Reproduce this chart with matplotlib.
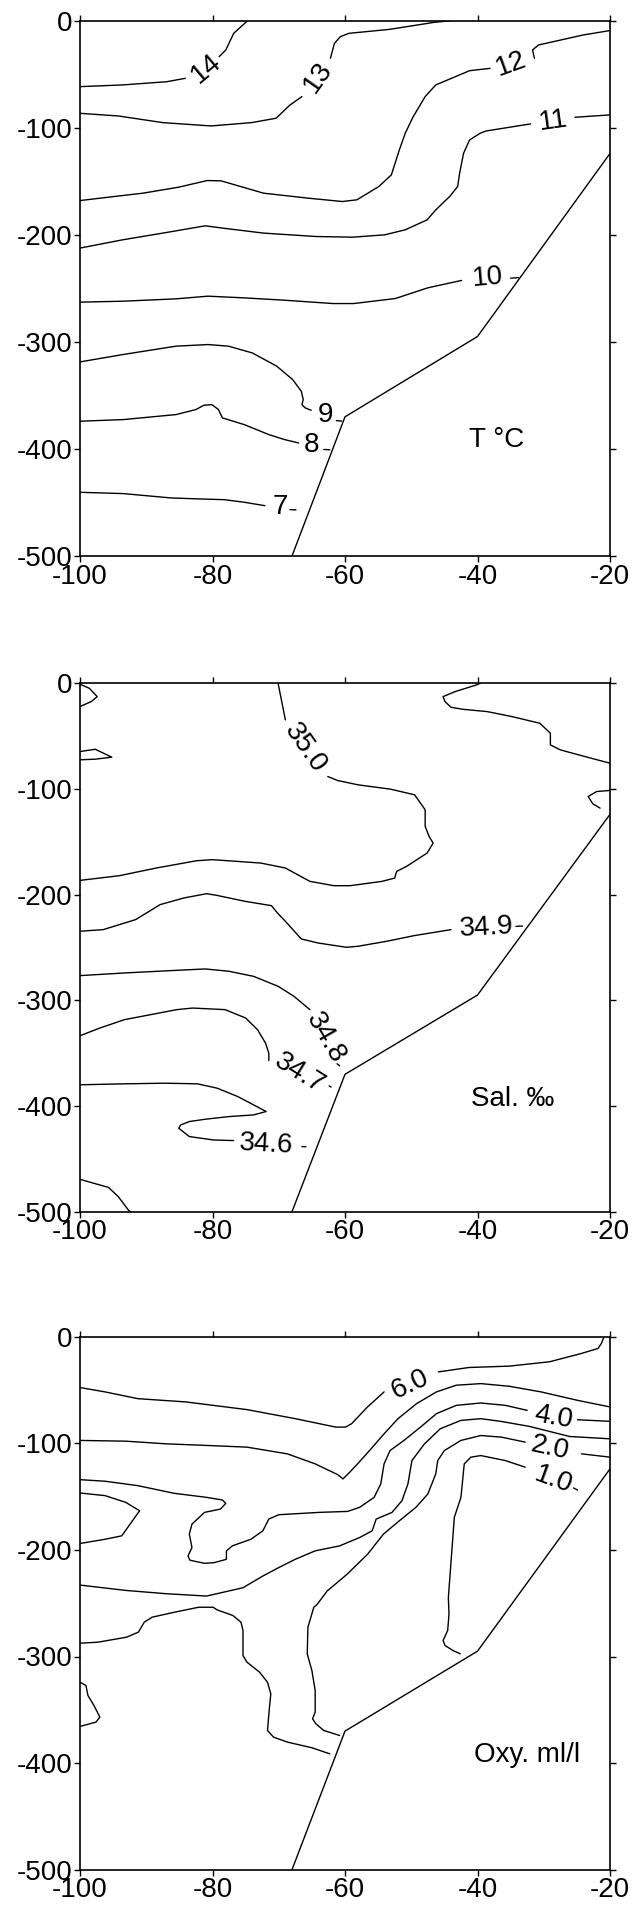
import numpy as np
import matplotlib
matplotlib.use("Agg")
import matplotlib.pyplot as plt

plt.rcParams['font.family'] = ['Liberation Sans', 'DejaVu Sans']
plt.rcParams['axes.unicode_minus'] = False

nan = np.nan

X_TICKS = [-100, -80, -60, -40, -20]
Y_TICKS = [0, -100, -200, -300, -400, -500]

# sea-floor profile (same on all panels)
BOTTOM_X = [-68, -60, -40, -20]
BOTTOM_Y = [-500, -370, -295, -124]

# ---------------- Panel 1 : temperature ----------------
t14_x = [-100, -93.6, -86.9, -84.1, nan, -79.0, -78.0, -76.8, -74.7]
t14_y = [-61.6, -60, -57, -53.8, nan, -33.6, -27.4, -11.8, 0]
t13_x = [-44.0, -46.5, -53.3, -59.4, -60.7, -61.6, -62.2, nan, -66.5, -68.3, -70.4, -74.1, -80.2, -87.5, -94.2, -100]
t13_y = [0, -1.5, -8.1, -11.8, -14.9, -21.2, -35.1, nan, -70.9, -78.7, -91.1, -95.2, -98.3, -95.2, -89, -86.5]
t12_x = [-20.1, -24.1, -30.8, -31.7, -31.4, nan, -38.1, -41.2, -46.3, -47.9, -49.7, -50.9, -51.8, -53.0, -54.9,
         -58.2, -60.4, -65.5, -72.3, -78.7, -80.8, -85.1, -90.5, -94.8, -100]
t12_y = [-9.3, -13.4, -22.7, -27.4, -35.1, nan, -44.5, -46.7, -60, -70.9, -89.6, -105, -120.7, -144, -154.9,
         -167.3, -168.9, -165.8, -161.1, -149.6, -149.3, -155.5, -161.1, -164.2, -168]
t11_x = [-20, -25.3, nan, -32.0, -38.7, -39.6, -41.2, -42.1, -42.7, -43, -44.2, -46.3, -47.6, -50.9, -54.0,
         -58.8, -64.3, -72.3, -78.4, -81.1, -87.5, -93.6, -100]
t11_y = [-88, -90.2, nan, -96.4, -103, -105.1, -111.4, -123.8, -142.5, -154.9, -164.2, -176.7, -186, -195.3, -200,
         -202.2, -201.6, -198.4, -193.8, -191.6, -198.4, -204.7, -212.4]
t10_x = [-35.0, -33.8, nan, -42.4, -47.5, -52.4, -58.7, -61.8, -69.1, -75.2, -80.7, -85.5, -93.5, -100]
t10_y = [-240.5, -240, nan, -242.6, -249.5, -259.5, -264.2, -264.2, -261.1, -258.9, -257.3, -259.8, -262, -262.9]
t9_x = [-100, -93.5, -85.5, -80.7, -77.6, -74.0, -70.3, -67.9, -66.6, -66.3, -66.5, -66.0, -65.1, nan, -61.3, -60.5]
t9_y = [-318.7, -311.8, -304, -302.5, -304, -310.3, -322.7, -335.2, -346.1, -353.9, -358.6, -361.7, -363.9, nan, -373.5, -374]
t8_x = [-100, -93.5, -85.5, -82.5, -81.3, -80.1, -79.1, -78.5, -75.2, -71.5, -69.1, -67.0, nan, -63.2, -62.3]
t8_y = [-374.1, -372.6, -367.9, -363.2, -359.2, -358.6, -363.2, -371, -377.3, -386.6, -391.3, -394.4, nan, -400.5, -400.8]
t7_x = [-100, -93.5, -86.2, -81.9, -78.2, -75.2, -72.1, nan, -68.3, -67.4]
t7_y = [-440.5, -441.7, -445.8, -446.7, -447.4, -449.8, -453, nan, -456.7, -456.9]

T_LABELS = ['14', '13', '12', '11', '10', '9', '8', '7']
T_LAB_X = [-81.0, -64.0, -34.9, -28.5, -38.4, -62.9, -65.1, -69.7]
T_LAB_Y = [-44.5, -52.9, -40.4, -93.3, -240.4, -368.5, -396.6, -453.9]
T_LAB_ROT = [40, 55, 20, 8, 5, 0, 0, 0]

# ---------------- Panel 2 : salinity ----------------
sa_x = [-100, -98.6, -97.4, -98.3, -100]
sa_y = [-0.9, -4.7, -12.6, -17.3, -22]
sb_x = [-100, -97.7, -95.2, -97.7, -100]
sb_y = [-64.6, -62.4, -69.9, -71.8, -72.4]
s350_x = [-70.1, -69.6, -69.0, nan, -62.6, -61.1, -58.0, -53.1, -49.5, -48.6, -47.9, -47.9, -47.3, -46.7, -47.6,
          -50.7, -52.2, -52.5, -54.4, -59.2, -61.7, -65.3, -69.0, -72.7, -80.0, -82.4, -88.5, -94.0, -100]
s350_y = [0, -15.7, -34.6, nan, -88.2, -92, -96.1, -100.2, -105.5, -113.4, -119.7, -135.4, -144.9, -151.2, -160.6,
          -173.2, -178, -184.3, -187.4, -191.5, -191.5, -187.4, -174.8, -170.1, -166.9, -167.9, -174.8, -182, -186.5]
sd_x = [-39.6, -40.2, -43.4, -45.2, -44.9, -44.0, -42.2, -38.5, -34.8, -30.6, -29.0, -29.0, -27.5, -23.8, -20]
sd_y = [0, -1.6, -7.9, -12.6, -17.3, -22.7, -24.6, -26.8, -31.5, -37.8, -47.2, -58.3, -63, -69.3, -75.6]
se_x = [-20, -22.0, -23.3, -22.6, -21.5]
se_y = [-101.4, -102.4, -107.1, -114, -118.1]
s349_x = [-100, -96.5, -91.6, -87.9, -84.3, -80.9, -79.4, -75.1, -71.1, -70.2, -69.0, -66.6, -64.1, -59.8, -58.0,
          -53.7, -49.5, -44.0, nan, -34.2, -33.2]
s349_y = [-234.6, -233.1, -223.6, -209.4, -203.1, -199.1, -200.6, -206.3, -210.4, -217.3, -225.2, -241.9, -245.7,
          -249.8, -248.8, -244.1, -238.7, -233.1, nan, -230, -229.7]
s348_x = [-100, -93.3, -85.4, -81.1, -77.5, -73.8, -70.1, -67.7, -66.2, -65.3, nan, -61.2, -60.8]
s348_y = [-276.6, -274.1, -271.6, -270.3, -272.5, -277.3, -286.7, -296.2, -304.1, -308.8, nan, -360, -362]
s347_x = [-100, -97.0, -93.3, -85.4, -83.0, -78.1, -75.0, -73.2, -72.0, -71.5, -71.5, nan, -62.4, -62.1]
s347_y = [-333.5, -326.2, -318.3, -308.8, -307.3, -308.8, -316.7, -327.8, -340.4, -349.9, -356.9, nan, -381, -382]
s346_x = [-100, -93.3, -87.2, -82.3, -79.3, -76.2, -73.8, -71.9, -73.8, -77.5, -81.1, -83.5, -84.8, -85.1, -83.5,
          -79.9, -76.8, nan, -66.5, -65.9]
s346_y = [-379.9, -379, -378.4, -379, -383.1, -391, -398.9, -405.2, -408.4, -410, -412.5, -414.7, -417.9, -421,
          -428.9, -432.1, -432.7, nan, -438.4, -438.5]
sj_x = [-100, -95.7, -94.2, -92.7, -92.4]
sj_y = [-469.4, -477, -485.9, -498.4, -500]

S_LABELS = ['35.0', '34.9', '34.8', '34.7', '34.6']
S_LAB_X = [-66.0, -38.7, -63.0, -66.8, -71.9]
S_LAB_Y = [-61.4, -231.5, -335.7, -369.5, -435.9]
S_LAB_ROT = [-55, 3, -60, -32, -3]

# ---------------- Panel 3 : oxygen ----------------
o6_x = [-20.9, -21.3, -21.8, -24.3, -29.1, -35.2, -41.3, -45.9, nan, -54.1, -56.6, -59.0, -59.9, -61.4, -67.5,
        -74.8, -84.0, -91.3, -96.2, -100]
o6_y = [0, -6.3, -11, -15.7, -23.5, -27.6, -28.9, -33, nan, -51.8, -65.9, -81.6, -84.8, -84.8, -76.9,
        -68.4, -61.2, -58.1, -51.8, -47.7]
o5_x = [-20, -24.9, -30.4, -35.2, -39.5, -43.2, -46.2, -49.2, -52.0, -54.1, -56.3, -58.1, -59.3, -60.3, -61.1,
        -64.5, -68.7, -74.8, -80.9, -87.0, -93.1, -100]
o5_y = [-65.9, -59.7, -51.8, -46.5, -44, -45.5, -51.8, -62.8, -76.9, -91.1, -106.8, -119.3, -127.2, -133.4, -129.4,
        -119.3, -109.9, -103.6, -102, -100.5, -98, -97.3]
o4_x = [-20, -24.9, nan, -32.5, -35.8, -39.5, -43.2, -46.2, -48.6, -51.1, -53.2, -54.1, -54.6, -55.6, -57.8, -59.6,
        -63.9, -70.0, -71.5, -72.4, -74.2, -77.0, -77.9, -77.9, -79.7, -81.2, -83.4, -83.7, -83.1, -83.5, -83.1,
        -81.2, -78.8, -78.0, -78.5, -80.9, -85.8, -91.3, -96.2, -100]
o4_y = [-79.4, -77.9, nan, -69.1, -64.4, -62.2, -64.4, -72.2, -84.8, -97.3, -106.8, -119.3, -138.1, -150.7, -160.1,
        -163.9, -164.8, -167, -171.1, -182.1, -190, -196.2, -200.9, -208.8, -211.9, -212.6, -209.7, -205.7, -197.8,
        -185.2, -175.8, -164.8, -161.7, -156.4, -153.2, -150.7, -146.9, -139.7, -135.6, -134.1]
o3_x = [-20, -26.1, -32.2, -36.5, -39.5, -42.5, -45.6, -48.0, -49.9, -50.5, -51.4, -52.9, -55.3, -55.9, -57.8,
        -60.8, -64.5, -67.5, -70.0, -72.4, -75.4, -80.9, -87.0, -93.1, -100]
o3_y = [-95.8, -93.6, -84.1, -79.4, -76.9, -78.5, -86.3, -100.5, -116.2, -138.1, -153.8, -164.8, -171.1, -182.1,
        -188.4, -196.2, -200.9, -208.8, -216.6, -224.5, -235.5, -243.3, -241.1, -238, -233]
o2_x = [-20, -24.3, nan, -32.8, -36.4, -39.5, -42.5, -45.0, -46.0, -46.3, -47.5, -49.3, -51.8, -54.2, -56.6, -59.7,
        -62.7, -64.2, -64.7, -65.6, -65.7, -65.0, -64.5, -64.5, -64.9, -64.4, -63.2, -60.8]
o2_y = [-113, -109.9, nan, -98.9, -94.2, -92.7, -97.3, -106.8, -116.2, -128.7, -147.6, -160.1, -172.7, -185.2,
        -204.1, -222.9, -238.6, -251.1, -253.8, -272.5, -297.5, -313.1, -331.9, -352.2, -358.4, -363.1, -369.4, -374.1]
o1_x = [-25.5, -24.9, nan, -32.8, -35.8, -39.5, -41.0, -42.0, -42.2, -42.5, -43.5, -43.8, -44.1, -44.4, -44.3,
        -44.5, -45.2, -44.9, -43.7, -42.6]
o1_y = [-141.9, -143.8, nan, -122.4, -116.2, -111.5, -113, -119.3, -131.9, -150.7, -169.5, -194.7, -219.8, -244.9,
        -260, -275.6, -285, -289.7, -294.4, -297.5]
oL_x = [-100, -96.2, -93.1, -91.0, -91.9, -93.7, -96.2, -100]
oL_y = [-146.6, -149.1, -155.4, -163.3, -171.1, -186.8, -190, -194]
oG_x = [-100, -97.3, -93.0, -91.2, -90.3, -89.1, -85.7, -82.1, -79.9, -79.3, -76.9, -75.7, -75.4, -75.4, -74.8,
        -72.9, -71.7, -71.2, -71.4, -71.7, -70.8, -68.7, -65.0, -62.3]
oG_y = [-287.5, -286.6, -281.9, -277.2, -267.8, -263.1, -258.4, -253.8, -253.8, -256.3, -261.6, -267.8, -275.6,
        -299.1, -305.3, -314.7, -324.1, -335, -347.5, -369.4, -375.6, -380.3, -385.6, -391.3]
oB_x = [-100, -99.1, -98.8, -97.9, -97.0, -97.6, -100]
oB_y = [-324.1, -327.2, -336.6, -345.9, -356.9, -361.6, -365.6]

O_LABELS = ['6.0', '4.0', '2.0', '1.0']
O_LAB_X = [-50.2, -28.5, -29.1, -28.5]
O_LAB_Y = [-44.6, -76.0, -104.2, -134.4]
O_LAB_ROT = [25, -10, -12, -20]

PANEL_TITLES = ['T °C', 'Sal. ‰', 'Oxy. ml/l']
TITLE_X = [-37.1, -34.7, -32.5]
TITLE_Y = [-391.3, -393.5, -392.2]

panels = [
    ([(t14_x, t14_y), (t13_x, t13_y), (t12_x, t12_y), (t11_x, t11_y), (t10_x, t10_y),
      (t9_x, t9_y), (t8_x, t8_y), (t7_x, t7_y)],
     (T_LABELS, T_LAB_X, T_LAB_Y, T_LAB_ROT)),
    ([(sa_x, sa_y), (sb_x, sb_y), (s350_x, s350_y), (sd_x, sd_y), (se_x, se_y), (s349_x, s349_y),
      (s348_x, s348_y), (s347_x, s347_y), (s346_x, s346_y), (sj_x, sj_y)],
     (S_LABELS, S_LAB_X, S_LAB_Y, S_LAB_ROT)),
    ([(o6_x, o6_y), (o5_x, o5_y), (o4_x, o4_y), (o3_x, o3_y), (o2_x, o2_y), (o1_x, o1_y),
      (oL_x, oL_y), (oG_x, oG_y), (oB_x, oB_y)],
     (O_LABELS, O_LAB_X, O_LAB_Y, O_LAB_ROT)),
]

W, H = 636, 1907
fig = plt.figure(figsize=(W / 100, H / 100), dpi=100)
FS = 20
# axes pixel boxes (left, top, right, bottom)
boxes = [(80, 20.7, 610, 556), (80, 683.3, 610, 1211.7), (80, 1336.7, 610, 1869.7)]

for i, (box, (lines, labs)) in enumerate(zip(boxes, panels)):
    l, t, r, b = box
    ax = fig.add_axes([l / W, 1 - b / H, (r - l) / W, (b - t) / H])
    ax.set_xlim(-100, -20)
    ax.set_ylim(-500, 0)
    ax.set_xticks(X_TICKS)
    ax.set_yticks(Y_TICKS)
    ax.set_xticklabels([str(v) for v in X_TICKS])
    ax.set_yticklabels([str(v) for v in Y_TICKS])
    ax.tick_params(axis='both', which='both', direction='out', length=4, width=1.0,
                   labelsize=FS, pad=1.5, top=True, right=True, colors='black')
    for sp in ax.spines.values():
        sp.set_linewidth(1.2)
    for xs, ys in lines:
        ax.plot(xs, ys, color='black', lw=1.0, solid_capstyle='round')
    ax.plot(BOTTOM_X, BOTTOM_Y, color='black', lw=1.0)
    names, lx, ly, lr = labs
    for s, x, y, rot in zip(names, lx, ly, lr):
        ax.text(x, y, s, fontsize=FS, ha='center', va='center', rotation=rot,
                rotation_mode='anchor')
    ax.text(TITLE_X[i], TITLE_Y[i], PANEL_TITLES[i], fontsize=FS, ha='center', va='center')

fig.savefig('out.png', dpi=100)
